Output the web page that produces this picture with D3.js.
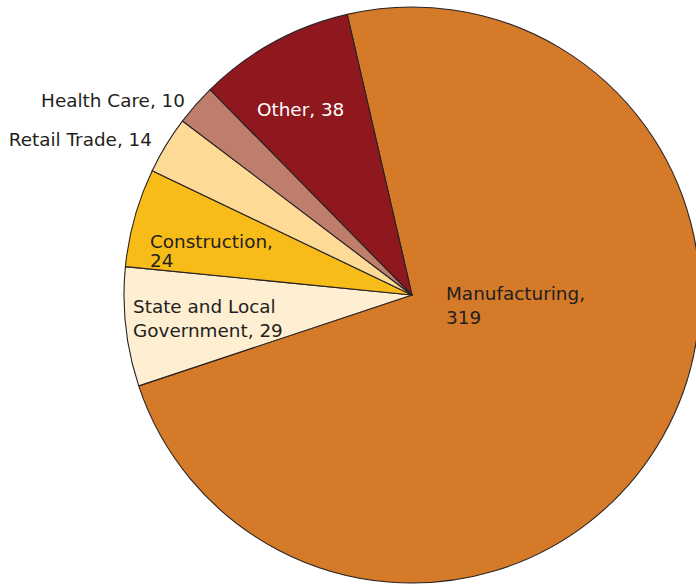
<!DOCTYPE html>
<html>
<head>
<meta charset="utf-8">
<script src="https://cdn.jsdelivr.net/npm/d3@7"></script>
<style>
  body { margin: 0; background: #fff; }
  text { font-family: "DejaVu Sans", "Liberation Sans", sans-serif; font-size: 18.4px; fill: #231f20; }
</style>
</head>
<body>
<div id="chart"></div>
<script>
// Chart size matches the window
let w = 696;
let h = 586;
let cx = 412;
let cy = 295;
let radius = 288;

// Data, clockwise from the top
let categories = ["Manufacturing", "State and Local Government", "Construction", "Retail Trade", "Health Care", "Other"];
let values = [319, 29, 24, 14, 10, 38];
let colors = ["#D47A28", "#FEEED2", "#F8BC18", "#FDDA96", "#BF7E6C", "#8E181D"];
// Label lines for each slice
let labelLines = [
    ["Manufacturing,", "319"],
    ["State and Local", "Government, 29"],
    ["Construction,", "24"],
    ["Retail Trade, 14"],
    ["Health Care, 10"],
    ["Other, 38"]
];

let dataset = categories.map((c, i) => ({ name: c, value: values[i], color: colors[i], lines: labelLines[i] }));

let svg = d3.select("#chart").append("svg")
    .attr("width", w)
    .attr("height", h);

// Manufacturing starts slightly left of 12 o'clock
let start = -13 * Math.PI / 180;
let pie = d3.pie()
    .sort(null)
    .value(d => d.value)
    .startAngle(start)
    .endAngle(start + 2 * Math.PI);

let arc = d3.arc().innerRadius(0).outerRadius(radius);

let g = svg.append("g").attr("transform", "translate(" + cx + "," + cy + ")");

g.selectAll("path")
    .data(pie(dataset))
    .enter()
    .append("path")
    .attr("d", arc)
    .attr("fill", d => d.data.color)
    .attr("stroke", "#2a2324")
    .attr("stroke-width", 1.1)
    .attr("stroke-linejoin", "round");

// Label placement (absolute, in page coordinates)
let labelPos = {
    "Manufacturing": { x: 446, y: 300, anchor: "start", fill: "#231f20", gap: 24 },
    "State and Local Government": { x: 133, y: 313, anchor: "start", fill: "#231f20", gap: 24 },
    "Construction": { x: 150, y: 248, anchor: "start", fill: "#231f20", gap: 19 },
    "Retail Trade": { x: 152, y: 146, anchor: "end", fill: "#231f20", gap: 24 },
    "Health Care": { x: 185, y: 107, anchor: "end", fill: "#231f20", gap: 24 },
    "Other": { x: 257, y: 116, anchor: "start", fill: "#ffffff", gap: 24 }
};

dataset.forEach(d => {
    let p = labelPos[d.name];
    let t = svg.append("text")
        .attr("text-anchor", p.anchor)
        .style("fill", p.fill);
    d.lines.forEach((line, i) => {
        t.append("tspan")
            .attr("x", p.x)
            .attr("y", p.y + i * p.gap)
            .text(line);
    });
});
</script>
</body>
</html>
